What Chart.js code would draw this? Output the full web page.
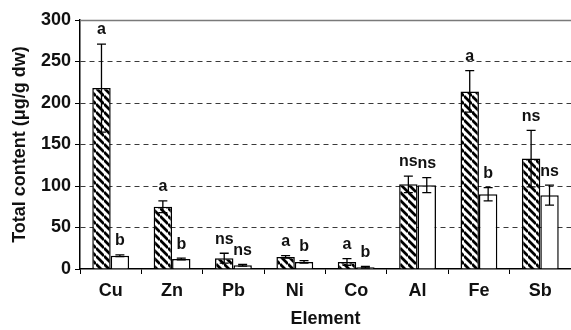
<!DOCTYPE html>
<html>
<head>
<meta charset="utf-8">
<script src="https://cdn.jsdelivr.net/npm/chart.js@4"></script>
<style>
  html, body { margin: 0; padding: 0; background: #fff; }
  #wrap { width: 571px; height: 330px; }
</style>
</head>
<body>
<div id="wrap"><canvas id="c" width="571" height="330"></canvas></div>
<script>
// Total element content per group, mean and standard deviation (µg/g dw)
const elements = ['Cu', 'Zn', 'Pb', 'Ni', 'Co', 'Al', 'Fe', 'Sb'];
const hatchedMeans = [218, 75, 13, 14.5, 8.5, 102, 214, 133];
const hatchedErrors = [53, 7, 6, 1.5, 4, 10, 25, 34];
const openMeans = [16, 12, 4.5, 8.5, 2, 101, 90, 89];
const openErrors = [1, 1, 1, 1.5, 1, 9, 8, 12];
// Significance letters above each bar
const hatchedLetters = ['a', 'a', 'ns', 'a', 'a', 'ns', 'a', 'ns'];
const openLetters = ['b', 'b', 'ns', 'b', 'b', 'ns', 'b', 'ns'];
// Value axis ticks
const yTicks = [0, 50, 100, 150, 200, 250, 300];

const FONT = '"Liberation Sans", Arial, Helvetica, sans-serif';

function hatchPattern() {
  const s = 8;
  const c = document.createElement('canvas');
  c.width = s; c.height = s;
  const g = c.getContext('2d');
  g.fillStyle = '#fff';
  g.fillRect(0, 0, s, s);
  g.strokeStyle = '#000';
  g.lineWidth = 2.8;
  g.beginPath();
  for (let k = -1; k <= 1; k++) {
    g.moveTo(0, k * s);
    g.lineTo(s, k * s + s);
  }
  g.stroke();
  return g.createPattern(c, 'repeat');
}

const ctx = document.getElementById('c').getContext('2d');

const errorSets = [hatchedErrors, openErrors];
const letterSets = [hatchedLetters, openLetters];

// Error bars and letters, positioned through the chart's scales
const annotate = {
  id: 'annotate',
  beforeDatasetsDraw(chart) {
    const y = chart.scales.y;
    const area = chart.chartArea;
    const c = chart.ctx;
    const top = Math.round(y.getPixelForValue(yTicks[yTicks.length - 1])) + 0.5;
    c.save();
    c.strokeStyle = '#7a7a7a';
    c.lineWidth = 1.5;
    c.beginPath();
    c.moveTo(area.left, top);
    c.lineTo(area.right, top);
    c.stroke();
    c.restore();
  },
  afterDatasetsDraw(chart) {
    const y = chart.scales.y;
    const c = chart.ctx;
    c.save();
    chart.data.datasets.forEach((ds, di) => {
      const meta = chart.getDatasetMeta(di);
      meta.data.forEach((bar, i) => {
        const v = ds.data[i];
        const e = errorSets[di][i];
        const x = bar.x;
        const yHi = y.getPixelForValue(v + e);
        const yLo = y.getPixelForValue(v - e);
        c.strokeStyle = '#000';
        c.lineWidth = 1.3;
        c.beginPath();
        c.moveTo(x, yHi); c.lineTo(x, yLo);
        c.moveTo(x - 4.5, yHi); c.lineTo(x + 4.5, yHi);
        c.moveTo(x - 4.5, yLo); c.lineTo(x + 4.5, yLo);
        c.stroke();
        c.fillStyle = '#111';
        c.font = 'bold 16px ' + FONT;
        c.textAlign = 'center';
        c.textBaseline = 'middle';
        c.fillText(letterSets[di][i], x, yHi - 14);
      });
    });
    c.restore();
  }
};

new Chart(ctx, {
  type: 'bar',
  data: {
    labels: elements,
    datasets: [
      {
        label: 'Hatched',
        data: hatchedMeans,
        backgroundColor: hatchPattern(),
        borderColor: '#000',
        borderWidth: 1.5,
        barPercentage: 1.0,
        categoryPercentage: 0.6
      },
      {
        label: 'Open',
        data: openMeans,
        backgroundColor: '#fff',
        borderColor: '#000',
        borderWidth: 1.5,
        barPercentage: 1.0,
        categoryPercentage: 0.6
      }
    ]
  },
  options: {
    responsive: false,
    animation: false,
    layout: { padding: { top: 20, right: 0, bottom: 0, left: 0 } },
    plugins: {
      legend: { display: false },
      tooltip: { enabled: false }
    },
    scales: {
      x: {
        grid: {
          display: true,
          drawOnChartArea: false,
          drawTicks: true,
          tickLength: 5,
          tickColor: '#000',
          offset: true
        },
        border: { display: true, color: '#000', width: 1.5 },
        ticks: {
          color: '#111',
          padding: 6,
          font: { family: FONT, size: 18, weight: 'bold' }
        },
        title: {
          display: true,
          text: 'Element',
          color: '#111',
          padding: { top: 0, bottom: 0 },
          font: { family: FONT, size: 18, weight: 'bold' }
        },
        afterFit(scale) { scale.height = 61; }
      },
      y: {
        min: 0,
        max: 300,
        afterBuildTicks(scale) { scale.ticks = yTicks.map(v => ({ value: v })); },
        grid: {
          color: (c) => (c.tick && c.tick.value > 0 && c.tick.value < 300) ? '#3a3a3a' : 'rgba(0,0,0,0)',
          lineWidth: 1,
          tickColor: '#000',
          tickLength: 5,
          drawTicks: true
        },
        border: { display: true, color: '#000', width: 1.5, dash: [5, 4] },
        ticks: {
          color: '#111',
          padding: 4,
          font: { family: FONT, size: 18, weight: 'bold' }
        },
        title: {
          display: true,
          text: 'Total content (\u03bcg/g dw)',
          color: '#111',
          padding: { top: 9, bottom: 0 },
          font: { family: FONT, size: 18, weight: 'bold' }
        },
        afterFit(scale) { scale.width = 80; }
      }
    }
  },
  plugins: [annotate]
});
</script>
</body>
</html>
